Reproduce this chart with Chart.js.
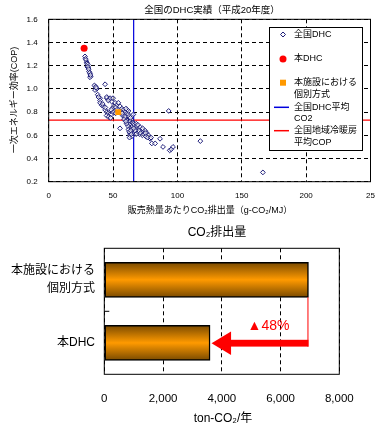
<!DOCTYPE html>
<html>
<head>
<meta charset="utf-8">
<script src="https://cdn.jsdelivr.net/npm/chart.js@4.4.1/dist/chart.umd.min.js"></script>
<style>
html, body { margin: 0; padding: 0; background: #fff; }
#wrap { position: relative; width: 386px; height: 442px; }
.box { position: absolute; left: 0; width: 386px; }
</style>
</head>
<body>
<div id="wrap">
    <div class="box" style="top:0;height:220px"><canvas id="dhcChart"></canvas></div>
    <div class="box" style="top:220px;height:222px"><canvas id="co2Chart"></canvas></div>
</div>
<script>
const FONT = "'Liberation Sans', 'Noto Sans CJK JP', sans-serif";

// 全国DHC: [g-CO2/MJ, COP]
const dhcPoints = [
    [28.2,1.28],[28.6,1.26],[29,1.25],[29.5,1.23],[29.8,1.22],[30.3,1.21],[30,1.19],[30.8,1.18],
    [30.5,1.19],[31.3,1.15],[31,1.17],[32.1,1.13],[31.8,1.14],[32.7,1.11],[32.1,1.10],[32.4,1.12],
    [35.5,1.03],[36.5,1.02],[37.3,1.00],[36,0.99],[36.8,1.01],[38.1,0.95],[39.9,0.92],[43.8,1.04],
    [38.6,0.93],[39.9,0.90],[39.9,0.88],[41.2,0.86],[42.5,0.85],[43.8,0.82],[45.1,0.80],[46.3,0.79],
    [47.7,0.78],[45,0.77],[46.5,0.76],[48,0.75],[49,0.78],[42,0.87],[44,0.84],
    [45.1,0.92],[46.3,0.91],[47.7,0.91],[45.1,0.93],[47.7,0.92],[49,0.89],[46.3,0.90],[50,0.92],
    [51.6,0.88],[52.9,0.86],[54.1,0.88],[50.5,0.85],[52,0.84],[49.5,0.83],[51,0.81],[53,0.82],
    [50,0.80],[52,0.79],[48.5,0.82],
    [55.4,0.85],[56.8,0.83],[58,0.82],[59.3,0.80],[60.7,0.79],[61.9,0.78],[58,0.78],[59.3,0.75],
    [60.7,0.72],[61.9,0.70],[63.2,0.67],[61.9,0.65],[63.2,0.62],[64.5,0.59],[55.4,0.66],[64.5,0.73],
    [64.5,0.66],[65.8,0.78],[56.8,0.80],[57.5,0.77],[59.3,0.76],[60.7,0.73],[63.2,0.72],[62,0.81],
    [61,0.82],[60,0.83],[57,0.79],[58.5,0.74],[62.5,0.76],[63.5,0.75],[64,0.70],[62.8,0.69],
    [61.5,0.68],[62.5,0.63],[63.8,0.64],[65,0.68],[65.5,0.71],[60.5,0.70],[59.8,0.72],[63,0.60],
    [64.2,0.61],[62.8,0.58],
    [65.8,0.70],[67.1,0.67],[69.7,0.66],[71,0.67],[72.3,0.65],[73.6,0.63],[74.9,0.64],[76.2,0.62],
    [77.5,0.60],[78.8,0.57],[80.1,0.53],[82.7,0.53],[86.5,0.57],[66.5,0.69],[68,0.70],[67.5,0.65],
    [68.5,0.68],[69,0.63],[70.2,0.64],[70.5,0.61],[71.5,0.62],[72.8,0.60],[74,0.61],[75.5,0.59],
    [66.8,0.62],[68,0.61],[67,0.64],[73,0.66],[75,0.62],[76.8,0.58],[79.5,0.58],[69.3,0.69],[66,0.66],
    [88.8,0.50],[94,0.47],[95.2,0.48],[96.6,0.50],[93.2,0.81],[117.8,0.55],[166.4,0.28]
];
const honDhc = [[27.5, 1.35]];
const kobetsu = [[54, 0.80]];
const avgCo2 = 66;      // 全国DHC平均CO2
const avgCop = 0.73;    // 全国地域冷暖房平均COP
const xTickLabels = ["0", "50", "100", "150", "200", "25"];
const legendLabels = [["全国DHC"], ["本DHC"], ["本施設における", "個別方式"], ["全国DHC平均", "CO2"], ["全国地域冷暖房", "平均COP"]];

// CO2排出量 (ton-CO2/年)
const co2Categories = [["本施設における", "個別方式"], "本DHC"];
const co2Values = [6950, 3600];

Chart.defaults.font.family = FONT;
Chart.defaults.color = "#000";
Chart.defaults.animation = false;

const toXY = arr => arr.map(p => ({x: p[0], y: p[1]}));

const dhcDecor = {
    id: "dhcDecor",
    afterDatasetsDraw(chart) {
        const {ctx, chartArea: a} = chart;
        ctx.save();
        ctx.strokeStyle = "#000";
        ctx.lineWidth = 1;
        ctx.strokeRect(a.left, a.top, a.right - a.left, a.bottom - a.top);
        ctx.restore();
    },
    afterDraw(chart) {
        const ctx = chart.ctx;
        ctx.save();
        ctx.fillStyle = "#000";
        ctx.textAlign = "center";
        ctx.textBaseline = "middle";
        ctx.font = "9.5px " + FONT;
        ctx.fillText("全国のDHC実績（平成20年度）", 212, 10);
        ctx.font = "9px " + FONT;
        ctx.fillText("販売熱量あたりCO₂排出量（g-CO₂/MJ）", 210, 211);
        ctx.save();
        ctx.translate(15, 100);
        ctx.rotate(-Math.PI / 2);
        ctx.fillText("一次エネルギー効率(COP)", 0, 0);
        ctx.restore();

        // legend
        const lx = 269.5, ly = 27.5, lw = 93, lh = 123;
        ctx.fillStyle = "#fff";
        ctx.fillRect(lx, ly, lw, lh);
        ctx.strokeStyle = "#000";
        ctx.lineWidth = 1;
        ctx.strokeRect(lx, ly, lw, lh);
        const rows = [34.5, 59, 82.7, 107.3, 130.7];
        const mx = 283;
        rows.forEach((y, i) => {
            if (i === 0) {
                ctx.strokeStyle = "#1f1f7a";
                ctx.beginPath();
                ctx.moveTo(mx, y - 2.5); ctx.lineTo(mx + 2.5, y); ctx.lineTo(mx, y + 2.5); ctx.lineTo(mx - 2.5, y);
                ctx.closePath();
                ctx.stroke();
            } else if (i === 1) {
                ctx.fillStyle = "#ff0000";
                ctx.beginPath();
                ctx.arc(mx, y, 3.5, 0, Math.PI * 2);
                ctx.fill();
            } else if (i === 2) {
                ctx.fillStyle = "#ff9900";
                ctx.fillRect(mx - 3, y - 3, 6, 6);
            } else {
                ctx.strokeStyle = i === 3 ? "#0000dd" : "#ff0000";
                ctx.lineWidth = 1.5;
                ctx.beginPath();
                ctx.moveTo(274, y); ctx.lineTo(289, y);
                ctx.stroke();
                ctx.lineWidth = 1;
            }
            ctx.fillStyle = "#000";
            ctx.textAlign = "left";
            ctx.font = "9px " + FONT;
            legendLabels[i].forEach((t, k) => ctx.fillText(t, 294, y + k * 11.5));
        });
        ctx.restore();
    }
};

new Chart(document.getElementById("dhcChart"), {
    type: "scatter",
    data: {
        datasets: [
            {
                data: toXY(honDhc),
                pointStyle: "circle",
                pointRadius: 3.5,
                backgroundColor: "#ff0000",
                borderColor: "#ff0000",
                borderWidth: 0,
                order: 0
            },
            {
                data: toXY(kobetsu),
                pointStyle: "rect",
                pointRadius: 4.2,
                backgroundColor: "#ff9900",
                borderColor: "#ff9900",
                borderWidth: 0,
                order: 1
            },
            {
                data: toXY(dhcPoints),
                pointStyle: "rectRot",
                pointRadius: 2.4,
                backgroundColor: "rgba(255,255,255,0.6)",
                borderColor: "#1f1f7a",
                borderWidth: 1,
                order: 2
            },
            {
                data: [{x: avgCo2, y: 0.2}, {x: avgCo2, y: 1.6}],
                showLine: true,
                pointRadius: 0,
                borderColor: "#0000dd",
                borderWidth: 1.2,
                order: 3
            },
            {
                data: [{x: 0, y: avgCop}, {x: 250, y: avgCop}],
                showLine: true,
                pointRadius: 0,
                borderColor: "#ff0000",
                borderWidth: 1.2,
                order: 4
            }
        ]
    },
    options: {
        responsive: true,
        maintainAspectRatio: false,
        layout: { padding: { top: 19.3, right: 15.5, left: 0, bottom: 0 } },
        plugins: { legend: { display: false }, tooltip: { enabled: false } },
        scales: {
            x: {
                type: "linear",
                min: 0,
                max: 250,
                afterFit: s => { s.height = 38.3; },
                ticks: {
                    stepSize: 50,
                    padding: 9,
                    maxRotation: 0,
                    font: { size: 8 },
                    callback: (v, i) => xTickLabels[i]
                },
                grid: { color: "#000", lineWidth: 1, drawTicks: false },
                border: { display: false, dash: [4, 3] }
            },
            y: {
                min: 0.2,
                max: 1.6,
                afterFit: s => { s.width = 48.7; },
                ticks: {
                    stepSize: 0.2,
                    padding: 11,
                    font: { size: 8 },
                    callback: v => Number(v).toFixed(1)
                },
                grid: { color: "#000", lineWidth: 1, drawTicks: false },
                border: { display: false, dash: [4, 3] }
            }
        }
    },
    plugins: [dhcDecor]
});

const BAR = 35;

const co2Decor = {
    id: "co2Decor",
    afterDatasetsDraw(chart) {
        const {ctx, chartArea: a} = chart;
        const xs = chart.scales.x, ys = chart.scales.y;
        ctx.save();
        ctx.strokeStyle = "#000";
        ctx.lineWidth = 1;
        ctx.strokeRect(a.left, a.top, a.right - a.left, a.bottom - a.top);
        // category boundary tick
        const yb = (ys.getPixelForValue(0) + ys.getPixelForValue(1)) / 2;
        ctx.beginPath();
        ctx.moveTo(a.left, yb); ctx.lineTo(a.left + 5, yb);
        ctx.stroke();

        // reduction arrow
        const xFrom = xs.getPixelForValue(co2Values[0]);
        const xTo = xs.getPixelForValue(co2Values[1]);
        const yTop = ys.getPixelForValue(0) + BAR / 2;
        const yArr = ys.getPixelForValue(1) + 0.4;
        ctx.strokeStyle = "#ff0000";
        ctx.fillStyle = "#ff0000";
        ctx.beginPath();
        ctx.moveTo(xFrom - 0.5, yTop); ctx.lineTo(xFrom - 0.5, yArr + 3.5);
        ctx.stroke();
        ctx.fillRect(xTo + 20, yArr - 3.4, xFrom - xTo - 20, 6.8);
        ctx.beginPath();
        ctx.moveTo(xTo + 1.5, yArr);
        ctx.lineTo(xTo + 21, yArr - 11.7);
        ctx.lineTo(xTo + 21, yArr + 11.7);
        ctx.closePath();
        ctx.fill();
        const pct = Math.round((1 - co2Values[1] / co2Values[0]) * 100);
        ctx.font = "14px " + FONT;
        ctx.textAlign = "right";
        ctx.textBaseline = "middle";
        ctx.fillText("▲" + pct + "%", xFrom - 19, yArr - 17);
        ctx.restore();
    },
    afterDraw(chart) {
        const ctx = chart.ctx;
        ctx.save();
        ctx.fillStyle = "#000";
        ctx.textAlign = "center";
        ctx.textBaseline = "middle";
        ctx.font = "12px " + FONT;
        ctx.fillText("CO₂排出量", 217, 13);
        ctx.fillText("ton-CO₂/年", 223, 199);
        ctx.restore();
    }
};

new Chart(document.getElementById("co2Chart"), {
    type: "bar",
    data: {
        labels: co2Categories,
        datasets: [{
            data: co2Values,
            barThickness: BAR,
            borderColor: "#000",
            borderWidth: 1.5,
            borderSkipped: false,
            backgroundColor: (c) => {
                const chart = c.chart;
                const ys = chart.scales.y;
                if (!chart.chartArea || !ys) return "#ff9900";
                const mid = ys.getPixelForValue(c.dataIndex);
                const g = chart.ctx.createLinearGradient(0, mid - BAR / 2, 0, mid + BAR / 2);
                g.addColorStop(0, "#7a4a00");
                g.addColorStop(0.5, "#ff9a00");
                g.addColorStop(1, "#7a4a00");
                return g;
            }
        }]
    },
    options: {
        indexAxis: "y",
        responsive: true,
        maintainAspectRatio: false,
        layout: { padding: { top: 28.3, right: 46.7, left: 0, bottom: 0 } },
        plugins: { legend: { display: false }, tooltip: { enabled: false } },
        scales: {
            x: {
                min: 0,
                max: 8000,
                afterFit: s => { s.height = 67.7; },
                ticks: {
                    stepSize: 2000,
                    padding: 17.5,
                    maxRotation: 0,
                    font: { size: 11.5 },
                    callback: v => v.toLocaleString("en-US")
                },
                grid: { color: "#000", lineWidth: 1, drawTicks: false },
                border: { display: false, dash: [4, 3] }
            },
            y: {
                afterFit: s => { s.width = 104.3; },
                ticks: {
                    padding: 9.3,
                    font: { size: 12, lineHeight: 1.5 }
                },
                grid: { display: false, drawTicks: false },
                border: { display: false }
            }
        }
    },
    plugins: [co2Decor]
});
</script>
</body>
</html>
